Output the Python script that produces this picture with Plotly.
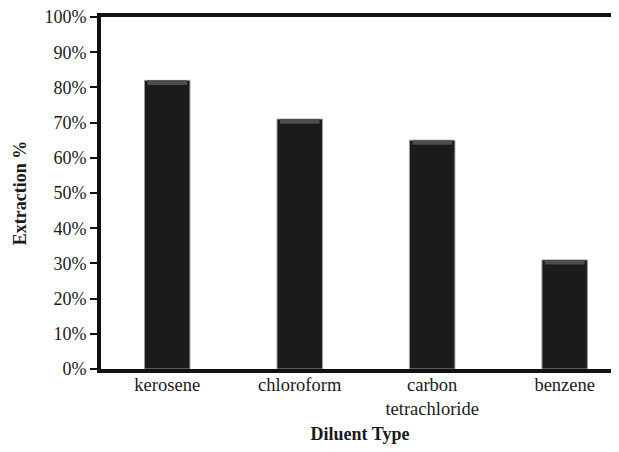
import plotly.graph_objects as go

categories = ["kerosene", "chloroform", "carbon<br>tetrachloride", "benzene"]
extraction = [82, 71, 65, 31]
y_ticks = [0, 10, 20, 30, 40, 50, 60, 70, 80, 90, 100]
y_tick_labels = [f"{v}%" for v in y_ticks]

BAND = 1.3
FONT = "Liberation Serif, Times New Roman, serif"

fig = go.Figure()
fig.add_trace(go.Bar(
    x=categories, y=extraction, width=0.343,
    marker=dict(color="#1b1b1b", line=dict(color="#9a9a9a", width=1)),
    hoverinfo="x+y", showlegend=False,
))
fig.add_trace(go.Bar(
    x=categories, y=[BAND] * len(extraction),
    base=[v - BAND for v in extraction], width=0.30,
    marker=dict(color="#4d4d4d", line=dict(width=0)),
    hoverinfo="skip", showlegend=False,
))

# page body has an 8px default margin, so the figure is sized/offset to compensate
fig.update_layout(
    width=611, height=444,
    margin=dict(l=93, r=0, t=9, b=83),
    paper_bgcolor="white", plot_bgcolor="white",
    barmode="overlay",
    font=dict(family=FONT, size=18, color="#1a1a1a"),
    xaxis=dict(
        range=[-0.5, 3.41], showgrid=False, zeroline=False, automargin=False,
        showline=True, linecolor="#111", linewidth=4, mirror=True,
        ticks="", ticklen=0, tickfont=dict(size=18.5), ticklabelstandoff=-4,
        title=dict(text="<b>Diluent Type</b>", font=dict(size=18), standoff=10),
    ),
    yaxis=dict(
        range=[0, 100], tickvals=y_ticks, ticktext=y_tick_labels,
        showgrid=False, zeroline=False, automargin=False,
        showline=True, linecolor="#111", linewidth=4,
        ticks="outside", ticklen=7, tickwidth=2, tickcolor="#111",
        tickfont=dict(size=18), ticklabeloverflow="allow",
        title=dict(text="<b>Extraction %</b>", font=dict(size=18), standoff=14),
    ),
)

fig.write_html("out.html")
